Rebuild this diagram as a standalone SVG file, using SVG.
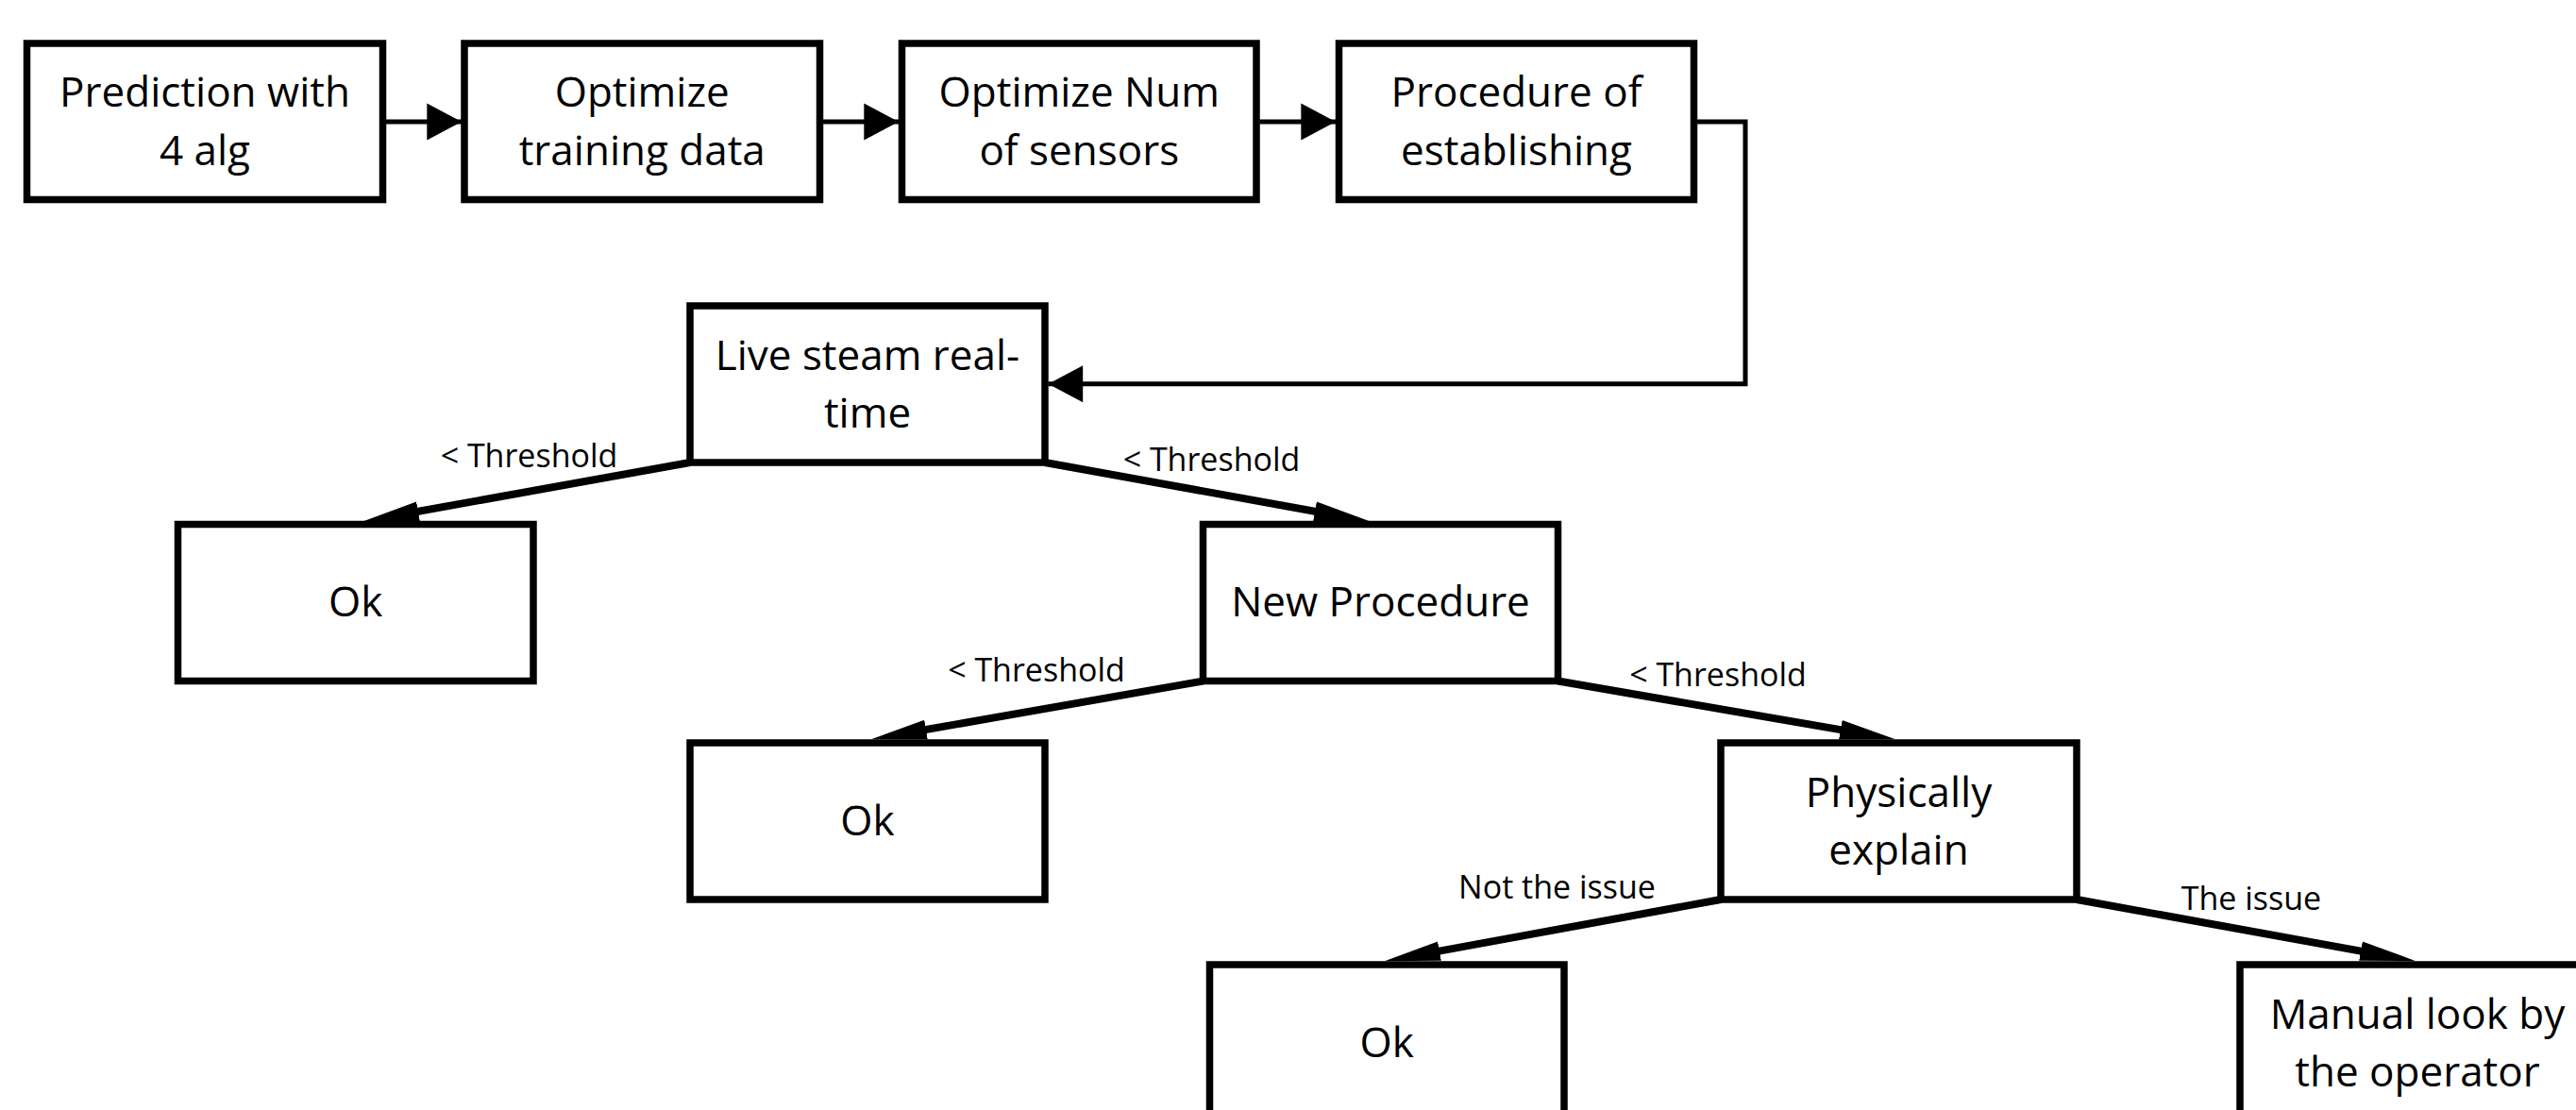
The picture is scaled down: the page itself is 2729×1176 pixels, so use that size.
<svg xmlns="http://www.w3.org/2000/svg" width="2729" height="1176" viewBox="0 0 2729 1176">
<defs>
<style>
.box{fill:#fff;stroke:#000;stroke-width:7.5}
.t{font-family:"Open Sans","Noto Sans","Liberation Sans",sans-serif;font-size:44px;fill:#000;text-anchor:middle}
.lbl{font-family:"Open Sans","Noto Sans","Liberation Sans",sans-serif;font-size:34px;fill:#000;text-anchor:middle}
.thin{fill:none;stroke:#000;stroke-width:5}
.thick{fill:none;stroke:#000;stroke-width:8}
</style>
<marker id="ah" markerUnits="userSpaceOnUse" markerWidth="40" markerHeight="40" viewBox="0 -18 34 36" refX="33" refY="0" orient="auto"><path d="M0,-17.5 L33,0 L0,17.5 z" fill="#000"/></marker>
<marker id="ahd" markerUnits="userSpaceOnUse" markerWidth="60" markerHeight="24" viewBox="0 -11 58 22" refX="27" refY="0" orient="auto"><path d="M0,-10 L57,0 L0,10 z" fill="#000"/></marker>
</defs>
<rect width="2729" height="1176" fill="#fff"/>
<g id="connectors">
<line class="thin" x1="409" y1="129" x2="489" y2="129" marker-end="url(#ah)"/>
<line class="thin" x1="872" y1="129" x2="952" y2="129" marker-end="url(#ah)"/>
<line class="thin" x1="1334.5" y1="129" x2="1415" y2="129" marker-end="url(#ah)"/>
<polyline class="thin" points="1798,129 1849,129 1849,406.7 1110.5,406.7" marker-end="url(#ah)"/>
<line class="thick" x1="731" y1="490" x2="415.5" y2="546.7" marker-end="url(#ahd)"/>
<line class="thick" x1="1107" y1="490" x2="1420.5" y2="546.7" marker-end="url(#ahd)"/>
<line class="thick" x1="1274.5" y1="721.5" x2="953.5" y2="777.8" marker-end="url(#ahd)"/>
<line class="thick" x1="1650.5" y1="721.5" x2="1977.4" y2="777.9" marker-end="url(#ahd)"/>
<line class="thick" x1="1823" y1="953" x2="1497.5" y2="1012.6" marker-end="url(#ahd)"/>
<line class="thick" x1="2200" y1="953" x2="2528.5" y2="1012.6" marker-end="url(#ahd)"/>
<text class="lbl" x="560.5" y="495">&lt; Threshold</text>
<text class="lbl" x="1283.5" y="499">&lt; Threshold</text>
<text class="lbl" x="1098" y="722">&lt; Threshold</text>
<text class="lbl" x="1820" y="727">&lt; Threshold</text>
<text class="lbl" x="1649.5" y="952">Not the issue</text>
<text class="lbl" x="2385" y="964">The issue</text>
</g>
<g id="n1"><rect class="box" x="28.5" y="46" width="377" height="165.5"/><text class="t" x="217" y="113.3">Prediction with</text><text class="t" x="217" y="175">4 alg</text></g>
<g id="n2"><rect class="box" x="492" y="46" width="376.5" height="165.5"/><text class="t" x="680.25" y="113.3">Optimize</text><text class="t" x="680.25" y="175">training data</text></g>
<g id="n3"><rect class="box" x="955.5" y="46" width="375.5" height="165.5"/><text class="t" x="1143.25" y="113.3">Optimize Num</text><text class="t" x="1143.25" y="175">of sensors</text></g>
<g id="n4"><rect class="box" x="1418.5" y="46" width="376" height="165.5"/><text class="t" x="1606.5" y="113.3">Procedure of</text><text class="t" x="1606.5" y="175">establishing</text></g>
<g id="n5"><rect class="box" x="731" y="324" width="376" height="166"/><text class="t" x="919" y="391.5">Live steam real-</text><text class="t" x="919" y="452.5">time</text></g>
<g id="n6"><rect class="box" x="188.5" y="555.5" width="376.5" height="166"/><text class="t" x="376.75" y="653">Ok</text></g>
<g id="n7"><rect class="box" x="1274.5" y="555.5" width="376" height="166"/><text class="t" x="1462.5" y="653">New Procedure</text></g>
<g id="n8"><rect class="box" x="731" y="787" width="376" height="166"/><text class="t" x="919" y="884.5">Ok</text></g>
<g id="n9"><rect class="box" x="1823" y="787" width="377" height="166"/><text class="t" x="2011.5" y="854.5">Physically</text><text class="t" x="2011.5" y="915.5">explain</text></g>
<g id="n10"><rect class="box" x="1281.5" y="1022" width="375.5" height="166"/><text class="t" x="1469.25" y="1119.5">Ok</text></g>
<g id="n11"><rect class="box" x="2373" y="1022" width="376" height="166"/><text class="t" x="2561" y="1089.5">Manual look by</text><text class="t" x="2561" y="1150.5">the operator</text></g>
</svg>
